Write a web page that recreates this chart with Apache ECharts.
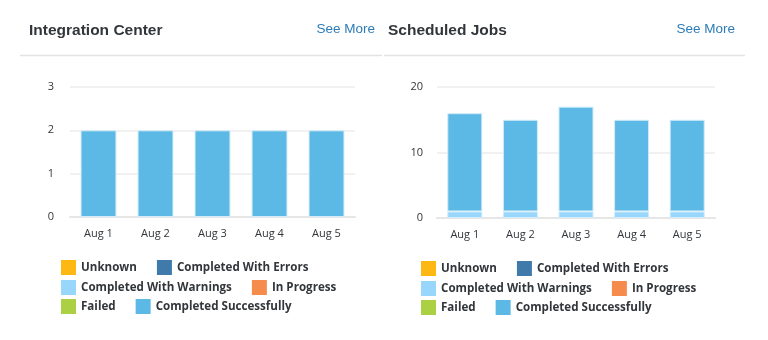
<!DOCTYPE html>
<html>
<head>
<meta charset="utf-8">
<script src="https://cdn.jsdelivr.net/npm/echarts@6/dist/echarts.min.js"></script>
<style>
  html, body { margin: 0; padding: 0; background: #ffffff; }
  #wrap { position: relative; width: 768px; height: 340px; }
  .panel { position: absolute; top: 0; width: 384px; height: 340px; }
  #left { left: 0; }
  #right { left: 384px; }
</style>
</head>
<body>
<div id="wrap">
  <div id="left" class="panel"></div>
  <div id="right" class="panel"></div>
</div>
<script>
// Shared categories and status names
const days = ['Aug 1', 'Aug 2', 'Aug 3', 'Aug 4', 'Aug 5'];
const statusNames = ['Unknown', 'Completed With Errors', 'Completed With Warnings', 'In Progress', 'Failed', 'Completed Successfully'];
const statusColors = ['#fdb813', '#3f7aab', '#98d6fc', '#f58b4c', '#abd044', '#5cb8e4'];

// Integration Center counts per status
const icUnknown   = [0, 0, 0, 0, 0];
const icErrors    = [0, 0, 0, 0, 0];
const icWarnings  = [0, 0, 0, 0, 0];
const icProgress  = [0, 0, 0, 0, 0];
const icFailed    = [0, 0, 0, 0, 0];
const icSuccess   = [2, 2, 2, 2, 2];
const icTicks = { min: 0, max: 3, interval: 1 };

// Scheduled Jobs counts per status
const sjUnknown   = [0, 0, 0, 0, 0];
const sjErrors    = [0, 0, 0, 0, 0];
const sjWarnings  = [1, 1, 1, 1, 1];
const sjProgress  = [0, 0, 0, 0, 0];
const sjFailed    = [0, 0, 0, 0, 0];
const sjSuccess   = [15, 14, 16, 14, 14];
const sjTicks = { min: 0, max: 20, interval: 10 };

const textDark = '#32363a';
const linkBlue = '#2b7cb8';

function buildSeries(arrays) {
  return statusNames.map((name, i) => ({
    name: name,
    type: 'bar',
    stack: 'status',
    barWidth: '63%',
    itemStyle: { color: statusColors[i], borderColor: '#d3ecf9', borderWidth: 1 },
    // empty segments are left out so they don't leave a hairline
    data: arrays[i].map(v => (v === 0 ? '-' : v))
  }));
}

function legendRows(left, tops) {
  const rows = [
    [statusNames[0], statusNames[1]],
    [statusNames[2], statusNames[3]],
    [statusNames[4], statusNames[5]]
  ];
  return rows.map((names, r) => ({
    data: names,
    left: left,
    top: tops[r],
    padding: 0,
    orient: 'horizontal',
    icon: 'rect',
    itemWidth: 15,
    itemHeight: 15,
    itemGap: 20,
    selectedMode: false,
    itemStyle: { borderWidth: 0 },
    textStyle: { color: textDark, fontSize: 11.6, fontWeight: 'bold', fontFamily: 'Open Sans' }
  }));
}

function buildOption(cfg) {
  return {
    animation: false,
    graphic: [
      { type: 'text', left: cfg.titleX, top: 23,
        style: { text: cfg.title, fill: textDark, font: 'bold 15.5px "Liberation Sans", Arial, sans-serif' } },
      { type: 'text', right: cfg.moreRight, top: 22,
        style: { text: 'See More', fill: linkBlue, font: '13.5px "Liberation Sans", Arial, sans-serif' } },
      { type: 'line', shape: { x1: cfg.sepX1, y1: 55.5, x2: cfg.sepX2, y2: 55.5 },
        style: { stroke: '#e3e3e3', lineWidth: 1.5 } }
    ],
    legend: legendRows(cfg.legendLeft, cfg.legendTops),
    grid: { left: cfg.gridLeft, right: cfg.gridRight, top: 87, bottom: cfg.gridBottom },
    xAxis: {
      type: 'category',
      data: days,
      axisLine: { show: true, lineStyle: { color: '#e6e6e6', width: 2 } },
      axisTick: { show: false },
      axisLabel: { color: textDark, fontSize: 11, fontFamily: 'Open Sans', margin: 11 }
    },
    yAxis: {
      type: 'value',
      min: cfg.ticks.min,
      max: cfg.ticks.max,
      interval: cfg.ticks.interval,
      axisLine: { show: false },
      axisTick: { show: false },
      axisLabel: { color: textDark, fontSize: 11, fontFamily: 'Open Sans', margin: cfg.labelMargin },
      splitLine: { lineStyle: { color: '#ececec', width: 1.5 } }
    },
    series: buildSeries(cfg.data)
  };
}

const leftChart = echarts.init(document.getElementById('left'), null, { renderer: 'canvas' });
leftChart.setOption(buildOption({
  title: 'Integration Center', titleX: 29, moreRight: 9,
  sepX1: 20, sepX2: 382,
  legendLeft: 61, legendTops: [260, 280, 299],
  gridLeft: 70, gridRight: 29, gridBottom: 123,
  labelMargin: 16,
  ticks: icTicks,
  data: [icUnknown, icErrors, icWarnings, icProgress, icFailed, icSuccess]
}));

const rightChart = echarts.init(document.getElementById('right'), null, { renderer: 'canvas' });
rightChart.setOption(buildOption({
  title: 'Scheduled Jobs', titleX: 4, moreRight: 33,
  sepX1: 0, sepX2: 361,
  legendLeft: 37, legendTops: [261, 281, 300],
  gridLeft: 53, gridRight: 53, gridBottom: 122,
  labelMargin: 14,
  ticks: sjTicks,
  data: [sjUnknown, sjErrors, sjWarnings, sjProgress, sjFailed, sjSuccess]
}));
</script>
</body>
</html>
